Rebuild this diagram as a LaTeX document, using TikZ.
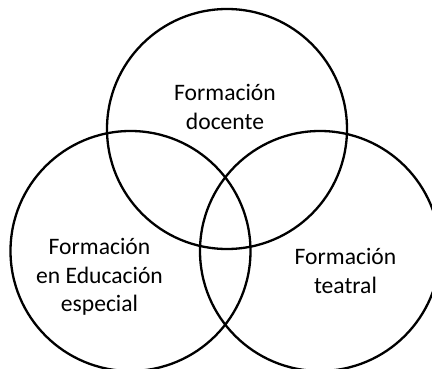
\documentclass[tikz,border=0pt]{standalone}
\usepackage{fontspec}
\setmainfont{Carlito}
\begin{document}
\begin{tikzpicture}[x=1pt,y=-1pt,
  ring/.style={draw=black,line width=2.3pt},
  lbl/.style={align=center,font=\fontsize{23.6}{28.3}\selectfont,inner sep=0pt}]
\useasboundingbox (0,0) rectangle (432,369);
\draw[ring] (227,129) circle (120);
\draw[ring] (130.5,251) circle (120);
\draw[ring] (320,251) circle (120);
\node[lbl] (t) at (225,107) {Formación\\docente};
\node[lbl] (l) at (99.5,277) {Formación\\en Educación\\especial};
\node[lbl] (r) at (345.5,271) {Formación\\teatral};
\end{tikzpicture}
\end{document}
